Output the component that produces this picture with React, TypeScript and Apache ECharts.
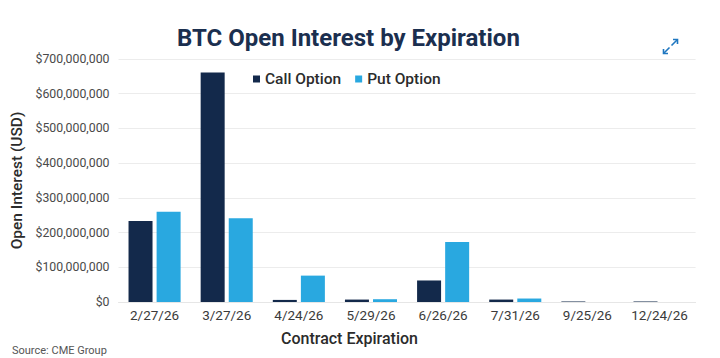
import React, { useEffect, useRef } from "react";
import * as echarts from "echarts";

const categories = ["2/27/26", "3/27/26", "4/24/26", "5/29/26", "6/26/26", "7/31/26", "9/25/26", "12/24/26"];
const callValues = [233000000, 661000000, 6000000, 7000000, 62000000, 7000000, 1500000, 1500000];
const putValues = [260000000, 241000000, 76000000, 8000000, 173000000, 10000000, 0, 0];
const yTicks = { min: 0, max: 700000000, interval: 100000000 };

const FONT = "Roboto";

export default function App() {
  const ref = useRef<HTMLDivElement>(null);
  useEffect(() => {
    if (!ref.current) return;
    const chart = echarts.init(ref.current, null, { renderer: "svg" });
    chart.setOption({
      animation: false,
      backgroundColor: "#ffffff",
      textStyle: { fontFamily: FONT },
      title: {
        text: "BTC Open Interest by Expiration",
        left: 172,
        top: 21,
        textStyle: { fontFamily: FONT, fontSize: 24, fontWeight: "bold", color: "#1b2f4f" },
      },
      legend: {
        left: 248,
        top: 66,
        itemWidth: 7,
        itemHeight: 7,
        itemGap: 14,
        icon: "rect",
        textStyle: { fontFamily: FONT, fontSize: 15.5, fontWeight: 500, color: "#2b2b2b" },
        data: ["Call Option", "Put Option"],
      },
      grid: { left: 118.5, right: 24.4, top: 59, bottom: 56 },
      xAxis: {
        type: "category",
        data: categories,
        axisTick: { show: false },
        axisLine: { lineStyle: { color: "#e6e6e6" } },
        axisLabel: { interval: 0, fontFamily: FONT, fontSize: 13.5, color: "#3a3a3a", margin: 6 },
      },
      yAxis: {
        type: "value",
        min: yTicks.min,
        max: yTicks.max,
        interval: yTicks.interval,
        name: "Open Interest (USD)",
        nameLocation: "middle",
        nameGap: 94,
        nameTextStyle: { fontFamily: FONT, fontSize: 15.5, fontWeight: 500, color: "#2b2b2b" },
        splitLine: { lineStyle: { color: "#ececec" } },
        axisLabel: {
          fontFamily: FONT,
          fontSize: 12.3,
          color: "#4a4a4a",
          margin: 9,
          formatter: (v: number) => "$" + v.toLocaleString("en-US"),
        },
      },
      series: [
        {
          name: "Call Option",
          type: "bar",
          data: callValues,
          barWidth: 24,
          barGap: "17%",
          itemStyle: { color: "#13294b" },
        },
        {
          name: "Put Option",
          type: "bar",
          data: putValues,
          barWidth: 24,
          itemStyle: { color: "#29a8e0" },
        },
      ],
      graphic: [
        {
          type: "text",
          left: 281,
          top: 330,
          style: { text: "Contract Expiration", fontFamily: FONT, fontSize: 16, fontWeight: 500, fill: "#2b2b2b" },
        },
        {
          type: "text",
          left: 12,
          top: 345,
          style: { text: "Source: CME Group", fontFamily: FONT, fontSize: 11, fill: "#555555" },
        },
        {
          type: "line",
          shape: { x1: 671.5, y1: 45.5, x2: 677.5, y2: 39.5 },
          style: { stroke: "#1f77c0", lineWidth: 1.6 },
        },
        {
          type: "polyline",
          shape: { points: [[673, 39.5], [677.5, 39.5], [677.5, 44]] },
          style: { stroke: "#1f77c0", lineWidth: 1.6, fill: null },
        },
        {
          type: "line",
          shape: { x1: 669.5, y1: 47.5, x2: 663.5, y2: 53.5 },
          style: { stroke: "#1f77c0", lineWidth: 1.6 },
        },
        {
          type: "polyline",
          shape: { points: [[663.5, 49], [663.5, 53.5], [668, 53.5]] },
          style: { stroke: "#1f77c0", lineWidth: 1.6, fill: null },
        },
      ],
    });
    return () => chart.dispose();
  }, []);
  return (
    <div
      ref={ref}
      style={{ position: "fixed", left: 0, top: 0, width: 720, height: 358 }}
    />
  );
}
